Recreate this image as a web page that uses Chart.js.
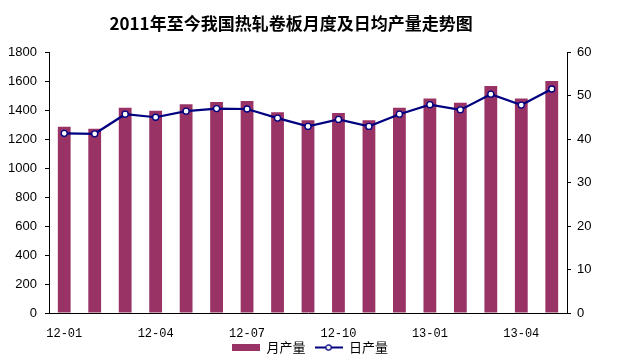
<!DOCTYPE html>
<html>
<head>
<meta charset="utf-8">
<script src="https://cdn.jsdelivr.net/npm/chart.js@4/dist/chart.umd.min.js"></script>
<style>
html,body{margin:0;padding:0;background:#fff;}
#wrap{width:620px;height:364px;position:relative;}
</style>
</head>
<body>
<div id="wrap"><canvas id="c" width="620" height="364"></canvas></div>
<script>
const titleText = '2011年至今我国热轧卷板月度及日均产量走势图';
const months = ['12-01','12-02','12-03','12-04','12-05','12-06','12-07','12-08','12-09','12-10','12-11','12-12','13-01','13-02','13-03','13-04','13-05'];
const monthlyOutput = [1285,1270,1415,1395,1440,1455,1462,1385,1330,1380,1330,1415,1480,1450,1565,1480,1600];
const dailyOutput = [41.3,41.2,45.7,45.0,46.4,47.0,46.9,44.8,42.9,44.5,42.9,45.7,47.9,46.7,50.3,47.8,51.5];
const seriesNames = ['月产量','日产量'];
const leftTicks = [0,200,400,600,800,1000,1200,1400,1600,1800];
const rightTicks = [0,10,20,30,40,50,60];

const barColor = '#993366';
const lineColor = '#000080';

function barIcon(){
  const c = document.createElement('canvas');
  c.width = 28; c.height = 7;
  const g = c.getContext('2d');
  g.fillStyle = barColor; g.fillRect(0,0,28,7);
  return c;
}
function lineIcon(){
  const c = document.createElement('canvas');
  c.width = 28; c.height = 9;
  const g = c.getContext('2d');
  g.strokeStyle = lineColor; g.lineWidth = 2;
  g.beginPath(); g.moveTo(0,4.5); g.lineTo(28,4.5); g.stroke();
  g.fillStyle = '#fff'; g.lineWidth = 1.2;
  g.beginPath(); g.arc(14,4.5,2.6,0,Math.PI*2); g.fill(); g.stroke();
  return c;
}

new Chart(document.getElementById('c'), {
  data: {
    labels: months,
    datasets: [
      {
        type: 'bar',
        label: seriesNames[0],
        data: monthlyOutput,
        yAxisID: 'y',
        backgroundColor: barColor,
        borderWidth: 0,
        categoryPercentage: 1.0,
        barPercentage: 0.42,
        order: 1
      },
      {
        type: 'line',
        label: seriesNames[1],
        data: dailyOutput,
        yAxisID: 'y1',
        borderColor: lineColor,
        borderWidth: 2.2,
        pointRadius: 3,
        pointBackgroundColor: '#fff',
        pointBorderColor: lineColor,
        pointBorderWidth: 1.3,
        tension: 0,
        order: 0
      }
    ]
  },
  options: {
    responsive: false,
    animation: false,
    devicePixelRatio: 1,
    layout: { padding: 0 },
    plugins: {
      title: {
        display: true,
        text: titleText + '\u3000\u3000 ',
        color: '#000',
        font: { family: '"Noto Sans CJK SC", "Liberation Sans", sans-serif', size: 17, weight: 'bold' },
        padding: { top: 13, bottom: 18.6 }
      },
      legend: {
        display: true,
        position: 'bottom',
        maxHeight: 24,
        labels: {
          usePointStyle: true,
          pointStyleWidth: 28,
          padding: 0,
          color: '#000',
          font: { family: '"Noto Sans CJK SC", sans-serif', size: 13 },
          generateLabels: () => [
            { text: seriesNames[0] + '\u2002\u2009', pointStyle: barIcon(), fillStyle: barColor, strokeStyle: barColor, lineWidth: 0, hidden: false, datasetIndex: 0 },
            { text: seriesNames[1], pointStyle: lineIcon(), fillStyle: '#fff', strokeStyle: lineColor, lineWidth: 0, hidden: false, datasetIndex: 1 }
          ]
        }
      },
      tooltip: { enabled: false }
    },
    scales: {
      x: {
        type: 'category',
        offset: true,
        grid: { display: true, drawOnChartArea: false, drawTicks: false, color: 'rgba(0,0,0,0)' },
        border: { display: true, color: '#000', width: 1 },
        ticks: {
          autoSkip: false,
          maxRotation: 0,
          padding: 14,
          color: '#000',
          font: { family: '"Liberation Mono", monospace', size: 12 },
          callback: function(v, i){ return i % 3 === 0 ? months[i] : ''; }
        },
        afterFit: s => { s.height = 28; }
      },
      y: {
        type: 'linear',
        position: 'left',
        min: leftTicks[0],
        max: leftTicks[leftTicks.length-1],
        afterBuildTicks: s => { s.ticks = leftTicks.map(v => ({value: v})); },
        grid: { drawOnChartArea: false, drawTicks: true, tickLength: 4, color: '#000' },
        border: { display: true, color: '#000', width: 1 },
        ticks: { padding: 8, color: '#000', font: { family: '"Liberation Sans", Arial, sans-serif', size: 13 }, callback: v => String(v) },
        afterFit: s => { s.width = 49; }
      },
      y1: {
        type: 'linear',
        position: 'right',
        min: rightTicks[0],
        max: rightTicks[rightTicks.length-1],
        afterBuildTicks: s => { s.ticks = rightTicks.map(v => ({value: v})); },
        grid: { drawOnChartArea: false, drawTicks: true, tickLength: 4, color: '#000' },
        border: { display: true, color: '#000', width: 1 },
        ticks: { padding: 6, color: '#000', font: { family: '"Liberation Sans", Arial, sans-serif', size: 13 }, callback: v => String(v) },
        afterFit: s => { s.width = 53; }
      }
    }
  }
});
</script>
</body>
</html>
